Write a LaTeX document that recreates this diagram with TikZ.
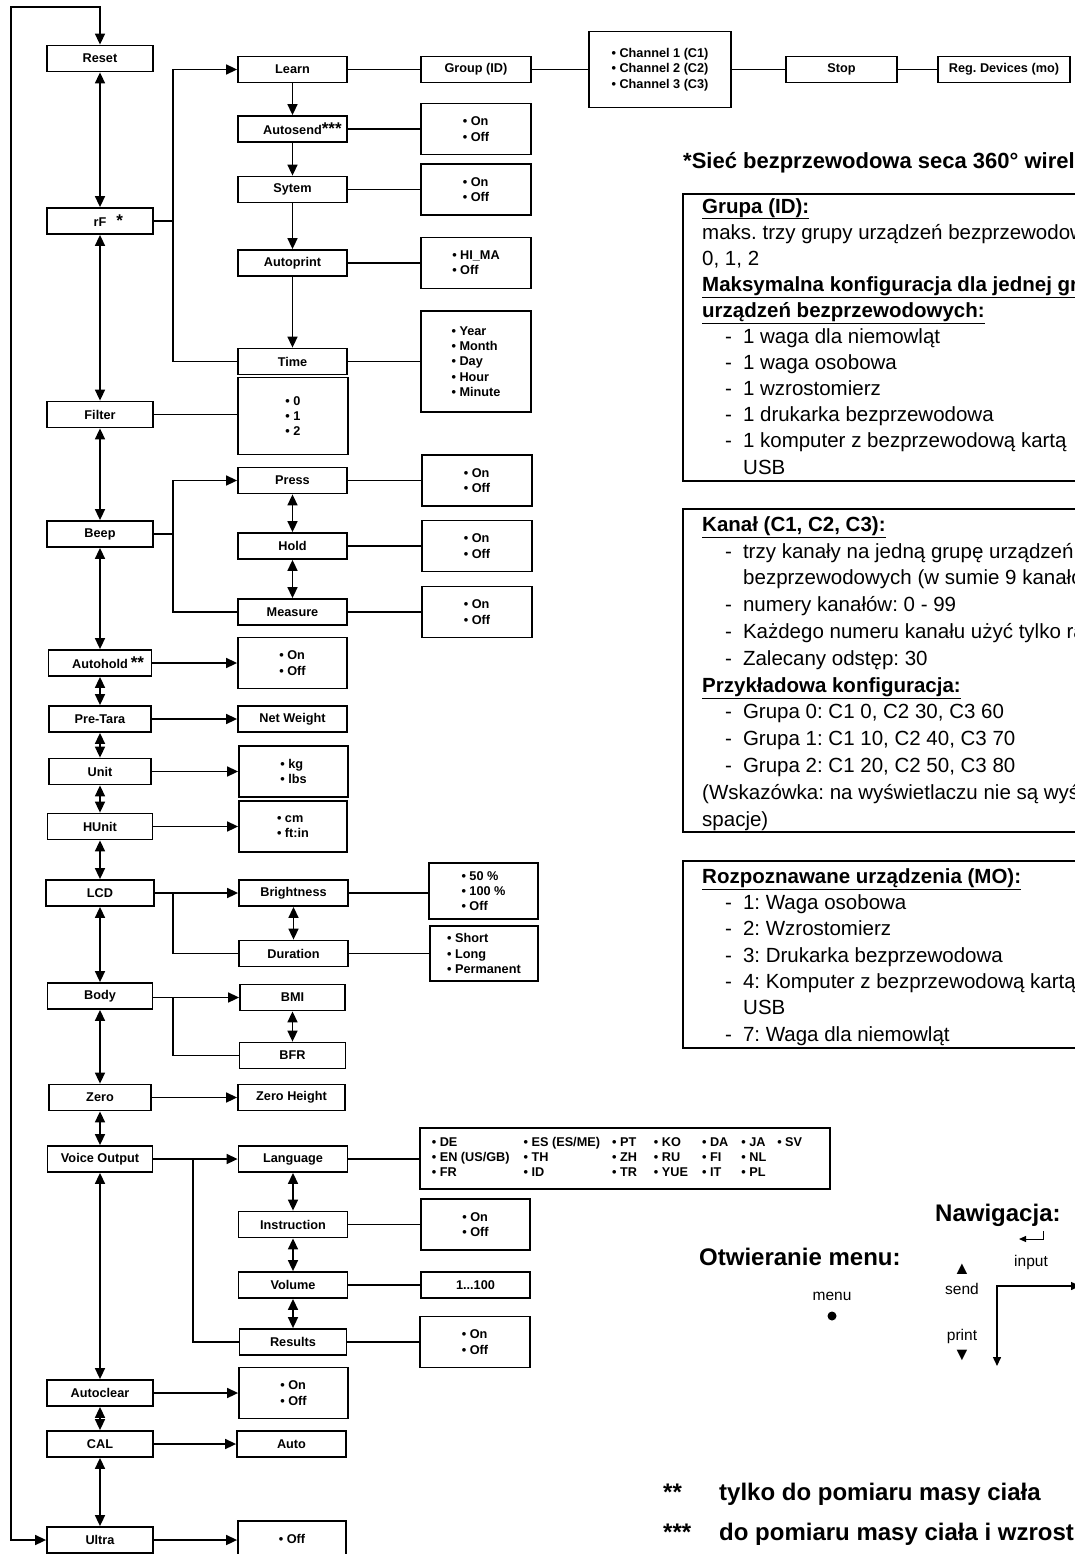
\documentclass[tikz,border=0pt]{standalone}
\usepackage{fontspec}
\setmainfont{Liberation Sans}
\usetikzlibrary{arrows.meta}
\frenchspacing

\newcommand{\bul}{\textbullet\ }
\newcommand{\stars}[1]{{\fontsize{17}{17}\selectfont #1}}
\newcommand{\dashitem}{\hspace*{23pt}-\hspace{11pt}}
\newcommand{\contline}{\hspace*{41pt}}

\tikzset{
  >={Triangle[length=11pt,width=10pt]},
  menubox/.style={draw, line width=1.8pt, minimum width=106pt, minimum height=26pt,
    inner sep=0pt, font=\fontsize{12.7}{15.3}\selectfont\bfseries},
  subbox/.style={menubox, minimum width=109pt},
  valbox/.style={menubox, minimum width=110pt, minimum height=51pt, align=left},
  link/.style={line width=1.6pt},
  frame/.style={line width=1.9pt},
  note/.style={anchor=base west, inner sep=0pt, align=left},
}

\begin{document}
\begin{tikzpicture}[x=1pt, y=-1pt]
\useasboundingbox (0,0) rectangle (1075,1554);
\clip (0,0) rectangle (1075,1554);

% main menu
\node[menubox] (reset) at (100,58.5) {Reset};
\node[menubox] (rf) at (100,221) {rF\rlap{\hspace{10pt}\stars{*}}};
\node[menubox] (filter) at (100,414.5) {Filter};
\node[menubox] (beep) at (100,534) {Beep};
\node[menubox, minimum width=103pt] (autohold) at (100,663) {Autohold\rlap{\hspace{3pt}\stars{**}}};
\node[menubox, minimum width=102pt] (pretara) at (100,719) {Pre-Tara};
\node[menubox, minimum width=102pt] (unit) at (100,771.5) {Unit};
\node[menubox, minimum width=105pt] (hunit) at (100,826.5) {HUnit};
\node[menubox, minimum width=108pt] (lcd) at (100,893) {LCD};
\node[menubox, minimum width=105pt] (body) at (100,996) {Body};
\node[menubox, minimum width=102pt] (zero) at (100,1097.5) {Zero};
\node[menubox, minimum width=105pt] (voice) at (100,1159) {Voice Output};
\node[menubox] (autoclear) at (100,1393) {Autoclear};
\node[menubox] (cal) at (100,1444) {CAL};
\node[menubox] (ultra) at (100,1540) {Ultra};

% rF submenu
\node[subbox] (learn) at (292.5,69.5) {Learn};
\node[subbox] (autosend) at (292.5,129) {Autosend\rlap{\stars{***}}};
\node[subbox] (sytem) at (292.5,189.5) {Sytem};
\node[subbox] (autoprint) at (292.5,263) {Autoprint};
\node[subbox] (time) at (292.5,361.5) {Time};
\node[menubox, minimum width=110pt] (group) at (476,69.5) {Group (ID)};
\node[valbox, minimum width=142pt, minimum height=76pt] (channels) at (660,69.5)
  {\bul Channel 1 (C1)\\\bul Channel 2 (C2)\\\bul Channel 3 (C3)};
\node[menubox, minimum width=111pt] (stop) at (841.5,69.5) {Stop};
\node[menubox, minimum width=132pt] (regdev) at (1004,69.5) {Reg. Devices (mo)};
\node[valbox] (autosendv) at (476,129) {\bul On\\\bul Off};
\node[valbox] (sytemv) at (476,189.5) {\bul On\\\bul Off};
\node[valbox] (autoprintv) at (476,263) {\bul HI\_MA\\\bul Off};
\node[valbox, minimum height=101pt] (timev) at (476,361.5)
  {\bul Year\\\bul Month\\\bul Day\\\bul Hour\\\bul Minute};

% filter, beep
\node[valbox, minimum height=77pt] (filterv) at (293,416) {\bul 0\\\bul 1\\\bul 2};
\node[subbox] (press) at (292.5,480.5) {Press};
\node[subbox] (hold) at (292.5,546) {Hold};
\node[subbox] (measure) at (292.5,612) {Measure};
\node[valbox] (pressv) at (477,480.5) {\bul On\\\bul Off};
\node[valbox] (holdv) at (477,546) {\bul On\\\bul Off};
\node[valbox] (measurev) at (477,612) {\bul On\\\bul Off};

% autohold .. zero
\node[valbox, minimum width=109pt] (autoholdv) at (292.5,663) {\bul On\\\bul Off};
\node[subbox] (netweight) at (292.5,719) {Net Weight};
\node[valbox, minimum width=109pt] (unitv) at (293.5,771.5) {\bul kg\\\bul lbs};
\node[valbox, minimum width=108pt] (hunitv) at (293,826.5) {\bul cm\\\bul ft:in};
\node[subbox] (brightness) at (293.5,893) {Brightness};
\node[subbox] (duration) at (293.5,953.5) {Duration};
\node[valbox, minimum width=109pt, minimum height=56pt] (brightv) at (483.5,891)
  {\bul 50 \%\\\bul 100 \%\\\bul Off};
\node[valbox, minimum width=108pt, minimum height=55pt] (durationv) at (484,953.5)
  {\bul Short\\\bul Long\\\bul Permanent};
\node[subbox, minimum width=105pt] (bmi) at (292.5,997.5) {BMI};
\node[subbox, minimum width=106pt] (bfr) at (292.5,1055.5) {BFR};
\node[subbox, minimum width=107pt] (zeroheight) at (291.5,1097.5) {Zero Height};

% voice output
\node[subbox] (language) at (293,1159) {Language};
\node[subbox] (instruction) at (293,1224.5) {Instruction};
\node[subbox] (volume) at (293,1285) {Volume};
\node[subbox, minimum width=107pt] (results) at (293,1342) {Results};
\node[valbox, minimum width=410pt, minimum height=61pt] (languagev) at (625,1158.5)
  {\setlength{\tabcolsep}{0pt}%
   \begin{tabular}{l@{\hspace{14pt}}l@{\hspace{12pt}}l@{\hspace{17pt}}l@{\hspace{14pt}}l@{\hspace{13pt}}l@{\hspace{11pt}}l@{\hspace{16pt}}}
   \bul DE & \bul ES (ES/ME) & \bul PT & \bul KO & \bul DA & \bul JA & \bul SV\\
   \bul EN (US/GB) & \bul TH & \bul ZH & \bul RU & \bul FI & \bul NL & \\
   \bul FR & \bul ID & \bul TR & \bul YUE & \bul IT & \bul PL &
   \end{tabular}};
\node[valbox, minimum width=109pt] (instructionv) at (475.5,1224.5) {\bul On\\\bul Off};
\node[menubox, minimum width=109pt] (volumev) at (475.5,1285) {1...100};
\node[valbox] (resultsv) at (475,1342) {\bul On\\\bul Off};
\node[valbox, minimum width=109pt] (autoclearv) at (293.5,1393) {\bul On\\\bul Off};
\node[subbox] (auto) at (291.5,1444) {Auto};
\node[valbox, minimum width=108pt] (ultrav) at (292,1546.5) {\bul Off\\~};

% main column arrows
\draw[link, <->] (reset.south) -- (rf.north);
\draw[link, <->] (rf.south) -- (filter.north);
\draw[link, <->] (filter.south) -- (beep.north);
\draw[link, <->] (beep.south) -- (autohold.north);
\draw[link, <->] (autohold.south) -- (pretara.north);
\draw[link, <->] (pretara.south) -- (unit.north);
\draw[link, <->] (unit.south) -- (hunit.north);
\draw[link, <->] (hunit.south) -- (lcd.north);
\draw[link, <->] (lcd.south) -- (body.north);
\draw[link, <->] (body.south) -- (zero.north);
\draw[link, <->] (zero.south) -- (voice.north);
\draw[link, <->] (voice.south) -- (autoclear.north);
\draw[link, <->] (autoclear.south) -- (cal.north);
\draw[link, <->] (cal.south) -- (ultra.north);
\coordinate (looptop) at (11,7);
\draw[link, <->] (reset.north) |- (looptop) |- (ultra.west);

% rF branch
\coordinate (rfbranch) at (173,221);
\draw[link] (rf.east) -- (rfbranch);
\draw[link, ->] (rfbranch) |- (learn.west);
\draw[link] (rfbranch) |- (time.west);
\draw[link, ->] (learn.south) -- (autosend.north);
\draw[link, ->] (autosend.south) -- (sytem.north);
\draw[link, ->] (sytem.south) -- (autoprint.north);
\draw[link, ->] (autoprint.south) -- (time.north);
\draw[link] (learn.east) -- (group.west);
\draw[link] (group.east) -- (channels.west);
\draw[link] (channels.east) -- (stop.west);
\draw[link] (stop.east) -- (regdev.west);
\draw[link] (autosend.east) -- (autosendv.west);
\draw[link] (sytem.east) -- (sytemv.west);
\draw[link] (autoprint.east) -- (autoprintv.west);
\draw[link] (time.east) -- (timev.west);

% filter, beep
\draw[link] (filter.east) -- (filter.east -| filterv.west);
\coordinate (beepbranch) at (173,534);
\draw[link] (beep.east) -- (beepbranch);
\draw[link, ->] (beepbranch) |- (press.west);
\draw[link] (beepbranch) |- (measure.west);
\draw[link, <->] (press.south) -- (hold.north);
\draw[link, <->] (hold.south) -- (measure.north);
\draw[link] (press.east) -- (pressv.west);
\draw[link] (hold.east) -- (holdv.west);
\draw[link] (measure.east) -- (measurev.west);

% single settings
\draw[link, ->] (autohold.east) -- (autoholdv.west);
\draw[link, ->] (pretara.east) -- (netweight.west);
\draw[link, ->] (unit.east) -- (unitv.west);
\draw[link, ->] (hunit.east) -- (hunitv.west);
\draw[link, ->] (zero.east) -- (zeroheight.west);
\draw[link, ->] (autoclear.east) -- (autoclearv.west);
\draw[link, ->] (cal.east) -- (auto.west);
\draw[link, ->] (ultra.east) -- (ultra.east -| ultrav.west);

% LCD, body
\coordinate (lcdbranch) at (173,893);
\draw[link, ->] (lcd.east) -- (brightness.west);
\draw[link] (lcdbranch) |- (duration.west);
\draw[link, <->] (brightness.south) -- (duration.north);
\draw[link] (brightness.east) -- (brightness.east -| brightv.west);
\draw[link] (duration.east) -- (durationv.west);
\coordinate (bodybranch) at (173,997.5);
\draw[link, ->] (body.east |- bmi.west) -- (bmi.west);
\draw[link] (bodybranch) |- (bfr.west);
\draw[link, <->] (bmi.south) -- (bfr.north);

% voice output
\coordinate (voicebranch) at (193,1159);
\draw[link, ->] (voice.east) -- (language.west);
\draw[link] (voicebranch) |- (results.west);
\draw[link, <->] (language.south) -- (instruction.north);
\draw[link, <->] (instruction.south) -- (volume.north);
\draw[link, <->] (volume.south) -- (results.north);
\draw[link] (language.east) -- (language.east -| languagev.west);
\draw[link] (instruction.east) -- (instructionv.west);
\draw[link] (volume.east) -- (volumev.west);
\draw[link] (results.east) -- (resultsv.west);

% wireless network notes (anchored at the last line)
\node[note, font=\fontsize{22}{26}\selectfont\bfseries] (nettitle) at (683,169)
  {*Sieć bezprzewodowa seca 360° wireless network};
\draw[frame] (683,194) rectangle (1100,481);
\node[note, font=\fontsize{20.5}{26.1}\selectfont] (grouptext) at (702,474)
  {\textbf{\underline{Grupa (ID):}}\\
   maks. trzy grupy urządzeń bezprzewodowych:\\
   0, 1, 2\\
   \textbf{\underline{Maksymalna konfiguracja dla jednej grupy}}\\
   \textbf{\underline{urządzeń bezprzewodowych:}}\\
   \dashitem 1 waga dla niemowląt\\
   \dashitem 1 waga osobowa\\
   \dashitem 1 wzrostomierz\\
   \dashitem 1 drukarka bezprzewodowa\\
   \dashitem 1 komputer z bezprzewodową kartą\\
   \contline USB};
\draw[frame] (683,509) rectangle (1100,832);
\node[note, font=\fontsize{20.5}{26.8}\selectfont] (channeltext) at (702,826)
  {\textbf{\underline{Kanał (C1, C2, C3):}}\\
   \dashitem trzy kanały na jedną grupę urządzeń\\
   \contline bezprzewodowych (w sumie 9 kanałów)\\
   \dashitem numery kanałów: 0 - 99\\
   \dashitem Każdego numeru kanału użyć tylko raz\\
   \dashitem Zalecany odstęp: 30\\
   \textbf{\underline{Przykładowa konfiguracja:}}\\
   \dashitem Grupa 0: C1 0, C2 30, C3 60\\
   \dashitem Grupa 1: C1 10, C2 40, C3 70\\
   \dashitem Grupa 2: C1 20, C2 50, C3 80\\
   (Wskazówka: na wyświetlaczu nie są wyświetlane\\
   spacje)};
\draw[frame] (683,861) rectangle (1100,1048);
\node[note, font=\fontsize{20.5}{26.3}\selectfont] (devicetext) at (702,1041)
  {\textbf{\underline{Rozpoznawane urządzenia (MO):}}\\
   \dashitem 1: Waga osobowa\\
   \dashitem 2: Wzrostomierz\\
   \dashitem 3: Drukarka bezprzewodowa\\
   \dashitem 4: Komputer z bezprzewodową kartą\\
   \contline USB\\
   \dashitem 7: Waga dla niemowląt};

% keys
\node[note, font=\fontsize{24}{28}\selectfont\bfseries] (navtitle) at (935,1221) {Nawigacja:};
\node[note, font=\fontsize{24}{28}\selectfont\bfseries] (menutitle) at (699,1265) {Otwieranie menu:};
\node[anchor=base, inner sep=0pt, font=\fontsize{15.5}{18}\selectfont] (menukey) at (832,1300) {menu};
\fill (832,1316) circle [radius=4.5pt];
\node[inner sep=0pt, font=\fontsize{18}{20}\selectfont] (upkey) at (962,1269) {▲};
\node[anchor=base, inner sep=0pt, font=\fontsize{15.5}{18}\selectfont] (sendkey) at (962,1294) {send};
\node[anchor=base, inner sep=0pt, font=\fontsize{15.5}{18}\selectfont] (printkey) at (962,1340) {print};
\node[inner sep=0pt, font=\fontsize{18}{20}\selectfont] (downkey) at (962,1355) {▼};
\node[anchor=base, inner sep=0pt, font=\fontsize{15.5}{18}\selectfont] (inputkey) at (1031,1266) {input};
\coordinate (enterend) at (1019,1239);
\draw[line width=1pt, -{Triangle[length=7pt,width=6pt]}] (1043,1231) |- (enterend);
\coordinate (navright) at (1080,1286);
\coordinate (navdown) at (997,1366);
\draw[line width=1.4pt, {Triangle[length=9pt,width=8pt]}-{Triangle[length=9pt,width=8pt]}] (navright) -| (navdown);

% footnotes
\node[note, font=\fontsize{24}{28}\selectfont\bfseries] (mark2) at (663,1500) {**};
\node[note, font=\fontsize{24}{28}\selectfont\bfseries] (foot2) at (719,1500) {tylko do pomiaru masy ciała};
\node[note, font=\fontsize{24}{28}\selectfont\bfseries] (mark3) at (663,1540) {***};
\node[note, font=\fontsize{24}{28}\selectfont\bfseries] (foot3) at (719,1540) {do pomiaru masy ciała i wzrostu};
\end{tikzpicture}
\end{document}
